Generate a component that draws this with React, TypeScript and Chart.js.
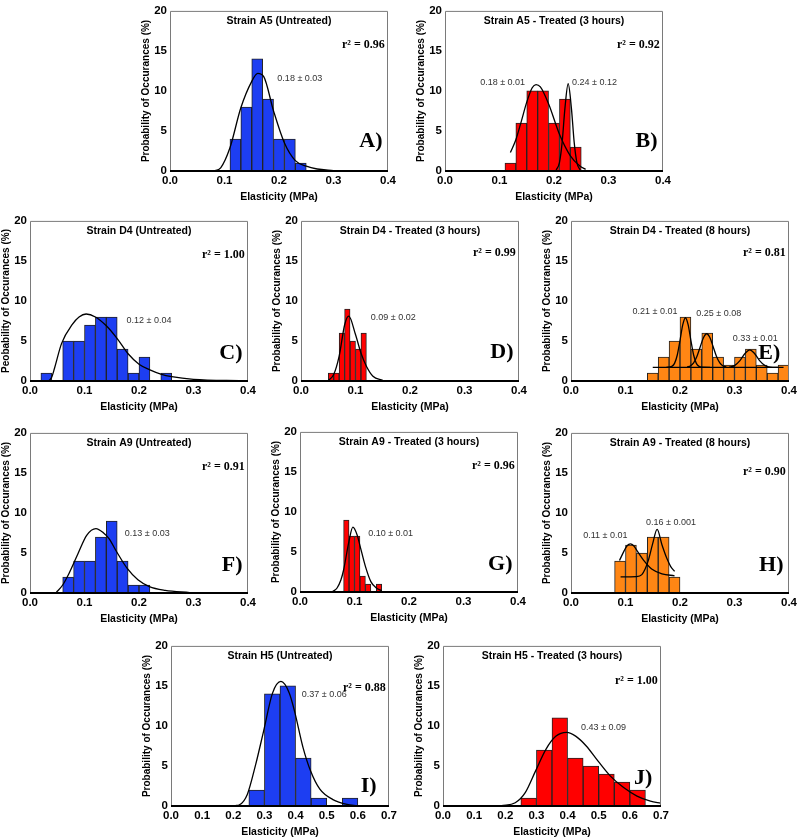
import React, { useEffect, useRef } from "react";
import { Chart, registerables } from "chart.js";
Chart.register(...registerables);

const SANS = '"Liberation Sans", Arial, sans-serif';
const SERIF = '"Liberation Serif", "Times New Roman", serif';

// ---------- tick labels ----------
const yTicks = [0, 5, 10, 15, 20];
const yTickLabels = ["0", "5", "10", "15", "20"];
const xTicks04 = [0, 0.1, 0.2, 0.3, 0.4];
const xTickLabels04 = ["0.0", "0.1", "0.2", "0.3", "0.4"];
const xTicks07 = [0, 0.1, 0.2, 0.3, 0.4, 0.5, 0.6, 0.7];
const xTickLabels07 = ["0.0", "0.1", "0.2", "0.3", "0.4", "0.5", "0.6", "0.7"];

// ---------- A: Strain A5 (Untreated) ----------
const aBinX = [0.12, 0.14, 0.16, 0.18, 0.2, 0.22, 0.24];
const aCounts = [4, 8, 14, 9, 4, 4, 1];
const aFitX = [0.08, 0.093, 0.11, 0.13, 0.15, 0.161, 0.172, 0.19, 0.21, 0.23, 0.25, 0.27, 0.3];
const aFitY = [0, 0.4, 2.9, 7.9, 11.2, 12.2, 11.8, 7.5, 3.5, 1.3, 0.6, 0.25, 0.05];
const aNotes = ["0.18 ± 0.03"];

// ---------- B: Strain A5 - Treated (3 hours) ----------
const bBinX = [0.12, 0.14, 0.16, 0.18, 0.2, 0.22, 0.24];
const bCounts = [1, 6, 10, 10, 6, 9, 3];
const bFit1X = [0.12, 0.13, 0.14, 0.15, 0.16, 0.167, 0.175, 0.19, 0.21, 0.23, 0.248, 0.258];
const bFit1Y = [2.3, 3.9, 6.2, 8.6, 10.4, 10.8, 10.5, 8.4, 4.6, 1.9, 0.6, 0.2];
const bFit2X = [0.204, 0.21, 0.215, 0.22, 0.226, 0.232, 0.237, 0.242, 0.248];
const bFit2Y = [0.13, 1.05, 3.6, 7.8, 10.9, 7.8, 3.6, 1.05, 0.13];
const bNotes = ["0.18 ± 0.01", "0.24 ± 0.12"];

// ---------- C: Strain D4 (Untreated) ----------
const cBinX = [0.03, 0.07, 0.09, 0.11, 0.13, 0.15, 0.17, 0.19, 0.21, 0.25];
const cCounts = [1, 5, 5, 7, 8, 8, 4, 1, 3, 1];
const cFitX = [0.035, 0.04, 0.045, 0.058, 0.078, 0.09, 0.103, 0.12, 0.14, 0.16, 0.18, 0.2, 0.22, 0.24, 0.26, 0.3, 0.39];
const cFitY = [0.05, 0.5, 1.6, 4.7, 7.1, 8.0, 8.37, 8.0, 6.9, 5.3, 3.4, 2.1, 1.4, 0.87, 0.54, 0.2, 0.04];
const cNotes = ["0.12 ± 0.04"];

// ---------- D: Strain D4 - Treated (3 hours) ----------
const dBinX = [0.055, 0.065, 0.075, 0.085, 0.095, 0.105, 0.115];
const dCounts = [1, 1, 6, 9, 5, 4, 6];
const dFitX = [0.05, 0.06, 0.07, 0.08, 0.0876, 0.1, 0.11, 0.12, 0.132, 0.15];
const dFitY = [0.05, 0.8, 3.1, 7.0, 8.1, 5.8, 3.5, 1.85, 0.6, 0.08];
const dNotes = ["0.09 ± 0.02"];

// ---------- E: Strain D4 - Treated (8 hours) ----------
const eBinX = [0.15, 0.17, 0.19, 0.21, 0.23, 0.25, 0.27, 0.29, 0.31, 0.33, 0.35, 0.37, 0.39];
const eCounts = [1, 3, 5, 8, 4, 6, 3, 2, 3, 4, 2, 1, 2];
const eBaseX = [0.15, 0.39];
const eBaseY = [1.7, 1.7];
const eFit1X = [0.175, 0.185, 0.19, 0.195, 0.2, 0.205, 0.21, 0.215, 0.22, 0.225, 0.23, 0.24, 0.255];
const eFit1Y = [1.71, 1.83, 2.2, 3.25, 5.05, 7.0, 7.9, 7.0, 5.05, 3.25, 2.2, 1.72, 1.7];
const eFit2X = [0.213, 0.219, 0.225, 0.231, 0.237, 0.243, 0.249, 0.255, 0.261, 0.267, 0.273, 0.279, 0.285];
const eFit2Y = [1.75, 1.88, 2.27, 3.07, 4.25, 5.4, 5.9, 5.4, 4.25, 3.07, 2.27, 1.88, 1.75];
const eFit3X = [0.29, 0.3, 0.31, 0.32, 0.328, 0.336, 0.346, 0.356, 0.366, 0.38];
const eFit3Y = [1.73, 1.92, 2.55, 3.5, 3.9, 3.5, 2.55, 1.92, 1.73, 1.7];
const eNotes = ["0.21 ± 0.01", "0.25 ± 0.08", "0.33 ± 0.01"];

// ---------- F: Strain A9 (Untreated) ----------
const fBinX = [0.07, 0.09, 0.11, 0.13, 0.15, 0.17, 0.19, 0.21];
const fCounts = [2, 4, 4, 7, 9, 4, 1, 1];
const fFitX = [0.048, 0.06, 0.072, 0.088, 0.104, 0.121, 0.135, 0.145, 0.159, 0.178, 0.198, 0.219, 0.248, 0.293];
const fFitY = [0.05, 1.0, 2.5, 4.9, 7.2, 8.04, 7.5, 6.8, 5.15, 3.1, 1.65, 0.8, 0.33, 0.05];
const fNotes = ["0.13 ± 0.03"];

// ---------- G: Strain A9 - Treated (3 hours) ----------
const gBinX = [0.085, 0.095, 0.105, 0.115, 0.125, 0.145];
const gCounts = [9, 7, 7, 2, 1, 1];
const gFitX = [0.06, 0.068, 0.075, 0.08, 0.09, 0.097, 0.105, 0.11, 0.12, 0.13, 0.14, 0.15];
const gFitY = [0.05, 0.5, 1.5, 2.75, 6.4, 8.1, 7.1, 5.8, 3.2, 1.3, 0.5, 0.16];
const gNotes = ["0.10 ± 0.01"];

// ---------- H: Strain A9 - Treated (8 hours) ----------
const hBinX = [0.09, 0.11, 0.13, 0.15, 0.17, 0.19];
const hCounts = [4, 6, 5, 7, 7, 2];
const hFit1X = [0.089, 0.097, 0.103, 0.109, 0.115, 0.122, 0.133, 0.148, 0.167, 0.19];
const hFit1Y = [4.06, 5.2, 5.9, 6.13, 5.9, 5.2, 4.1, 3.0, 2.4, 2.15];
const hFit2X = [0.091, 0.12, 0.13, 0.136, 0.142, 0.15, 0.158, 0.167, 0.176, 0.183, 0.19];
const hFit2Y = [2.02, 2.05, 2.3, 3.0, 4.1, 6.2, 7.95, 6.0, 4.3, 3.3, 2.7];
const hNotes = ["0.11 ± 0.01", "0.16 ± 0.001"];

// ---------- I: Strain H5 (Untreated) ----------
const iBinX = [0.275, 0.325, 0.375, 0.425, 0.475, 0.575];
const iCounts = [2, 14, 15, 6, 1, 1];
const iFitX = [0.207, 0.22, 0.245, 0.272, 0.297, 0.326, 0.353, 0.38, 0.397, 0.424, 0.448, 0.478, 0.52, 0.565, 0.598];
const iFitY = [0.05, 0.15, 1.45, 5.2, 9.3, 14.1, 15.56, 14.1, 11.8, 7.3, 4.4, 2.1, 0.8, 0.2, 0.05];
const iNotes = ["0.37 ± 0.06"];

// ---------- J: Strain H5 - Treated (3 hours) ----------
const jBinX = [0.275, 0.325, 0.375, 0.425, 0.475, 0.525, 0.575, 0.625];
const jCounts = [1, 7, 11, 6, 5, 4, 3, 2];
const jFitX = [0.188, 0.232, 0.264, 0.297, 0.33, 0.362, 0.397, 0.427, 0.46, 0.498, 0.536, 0.58, 0.623, 0.666, 0.7];
const jFitY = [0.05, 0.4, 1.66, 4.36, 7.05, 8.7, 9.2, 8.7, 7.5, 5.6, 3.8, 2.3, 1.24, 0.6, 0.33];
const jNotes = ["0.43 ± 0.09"];

// ---------- layout / style ----------
const BLUE = "#1d3ef2";
const RED = "#ff0000";
const ORANGE = "#ff8614";
const Y_TITLE = "Probability of Occurances (%)";
const X_TITLE = "Elasticity (MPa)";
const PLOT_W = 218;
const PLOT_H = 162;
const LY = 34;
const PT = 8;
const PR = 14;
const HX = 36;

type Note = { text: string; x: number; y: number };
type Panel = {
  left: number;
  top: number;
  title: string;
  yTitle: string;
  xMax: number;
  xTicks: number[];
  xLabels: string[];
  color: string;
  binX: number[];
  counts: number[];
  fits: [number[], number[]][];
  r2: string;
  r2Y: number;
  letter: string;
  letterY: number;
  letterFrac: number;
  notes: Note[];
};

const panels: Panel[] = [
  { left: 170, top: 9, title: "Strain A5 (Untreated)", yTitle: Y_TITLE, xMax: 0.4, xTicks: xTicks04, xLabels: xTickLabels04, color: BLUE, binX: aBinX, counts: aCounts, fits: [[aFitX, aFitY]], r2: "r² = 0.96", r2Y: 15.8, letter: "A)", letterY: 3.7, letterFrac: 0.975, notes: [{ text: aNotes[0], x: 0.197, y: 11.6 }] },
  { left: 445, top: 9, title: "Strain A5 - Treated (3 hours)", yTitle: Y_TITLE, xMax: 0.4, xTicks: xTicks04, xLabels: xTickLabels04, color: RED, binX: bBinX, counts: bCounts, fits: [[bFit1X, bFit1Y], [bFit2X, bFit2Y]], r2: "r² = 0.92", r2Y: 15.8, letter: "B)", letterY: 3.7, letterFrac: 0.975, notes: [{ text: bNotes[0], x: 0.0645, y: 11.0 }, { text: bNotes[1], x: 0.233, y: 11.0 }] },
  { left: 30, top: 219, title: "Strain D4 (Untreated)", yTitle: "Peobability of Occurances (%)", xMax: 0.4, xTicks: xTicks04, xLabels: xTickLabels04, color: BLUE, binX: cBinX, counts: cCounts, fits: [[cFitX, cFitY]], r2: "r² = 1.00", r2Y: 15.8, letter: "C)", letterY: 3.5, letterFrac: 0.975, notes: [{ text: cNotes[0], x: 0.177, y: 7.6 }] },
  { left: 301, top: 219, title: "Strain D4 - Treated (3 hours)", yTitle: Y_TITLE, xMax: 0.4, xTicks: xTicks04, xLabels: xTickLabels04, color: RED, binX: dBinX, counts: dCounts, fits: [[dFitX, dFitY]], r2: "r² = 0.99", r2Y: 16, letter: "D)", letterY: 3.6, letterFrac: 0.975, notes: [{ text: dNotes[0], x: 0.128, y: 7.9 }] },
  { left: 571, top: 219, title: "Strain D4 - Treated (8 hours)", yTitle: Y_TITLE, xMax: 0.4, xTicks: xTicks04, xLabels: xTickLabels04, color: ORANGE, binX: eBinX, counts: eCounts, fits: [[eBaseX, eBaseY], [eFit1X, eFit1Y], [eFit2X, eFit2Y], [eFit3X, eFit3Y]], r2: "r² = 0.81", r2Y: 16, letter: "E)", letterY: 3.5, letterFrac: 0.96, notes: [{ text: eNotes[0], x: 0.113, y: 8.7 }, { text: eNotes[1], x: 0.23, y: 8.45 }, { text: eNotes[2], x: 0.297, y: 5.3 }] },
  { left: 30, top: 431, title: "Strain A9 (Untreated)", yTitle: Y_TITLE, xMax: 0.4, xTicks: xTicks04, xLabels: xTickLabels04, color: BLUE, binX: fBinX, counts: fCounts, fits: [[fFitX, fFitY]], r2: "r² = 0.91", r2Y: 15.8, letter: "F)", letterY: 3.4, letterFrac: 0.975, notes: [{ text: fNotes[0], x: 0.174, y: 7.4 }] },
  { left: 300, top: 430, title: "Strain A9 - Treated (3 hours)", yTitle: Y_TITLE, xMax: 0.4, xTicks: xTicks04, xLabels: xTickLabels04, color: RED, binX: gBinX, counts: gCounts, fits: [[gFitX, gFitY]], r2: "r² = 0.96", r2Y: 15.7, letter: "G)", letterY: 3.4, letterFrac: 0.975, notes: [{ text: gNotes[0], x: 0.125, y: 7.3 }] },
  { left: 571, top: 431, title: "Strain A9 - Treated (8 hours)", yTitle: Y_TITLE, xMax: 0.4, xTicks: xTicks04, xLabels: xTickLabels04, color: ORANGE, binX: hBinX, counts: hCounts, fits: [[hFit1X, hFit1Y], [hFit2X, hFit2Y]], r2: "r² = 0.90", r2Y: 15.1, letter: "H)", letterY: 3.4, letterFrac: 0.975, notes: [{ text: hNotes[0], x: 0.0224, y: 7.2 }, { text: hNotes[1], x: 0.1376, y: 8.8 }] },
  { left: 171, top: 644, title: "Strain H5 (Untreated)", yTitle: Y_TITLE, xMax: 0.7, xTicks: xTicks07, xLabels: xTickLabels07, color: BLUE, binX: iBinX, counts: iCounts, fits: [[iFitX, iFitY]], r2: "r² = 0.88", r2Y: 14.7, letter: "I)", letterY: 2.4, letterFrac: 0.943, notes: [{ text: iNotes[0], x: 0.42, y: 13.9 }] },
  { left: 443, top: 644, title: "Strain H5 - Treated (3 hours)", yTitle: Y_TITLE, xMax: 0.7, xTicks: xTicks07, xLabels: xTickLabels07, color: RED, binX: jBinX, counts: jCounts, fits: [[jFitX, jFitY]], r2: "r² = 1.00", r2Y: 15.6, letter: "J)", letterY: 3.5, letterFrac: 0.96, notes: [{ text: jNotes[0], x: 0.443, y: 9.8 }] },
];

const decorPlugin = {
  id: "decor",
  afterDatasetsDraw(chart: any, _args: any, opts: any) {
    const p: Panel = opts.panel;
    if (!p) return;
    const { ctx, chartArea: a } = chart;
    const xs = chart.scales.x;
    const ys = chart.scales.y;
    ctx.save();
    // top/right/left frame (grey)
    ctx.strokeStyle = "#7a7a7a";
    ctx.lineWidth = 1;
    ctx.beginPath();
    ctx.moveTo(a.left + 0.5, a.bottom);
    ctx.lineTo(a.left + 0.5, a.top + 0.5);
    ctx.lineTo(a.right - 0.5, a.top + 0.5);
    ctx.lineTo(a.right - 0.5, a.bottom);
    ctx.stroke();
    // bottom axis (black)
    ctx.strokeStyle = "#000";
    ctx.lineWidth = 2;
    ctx.beginPath();
    ctx.moveTo(a.left, a.bottom);
    ctx.lineTo(a.right, a.bottom);
    ctx.stroke();
    // texts
    ctx.fillStyle = "#000";
    ctx.textBaseline = "middle";
    ctx.textAlign = "center";
    ctx.font = `bold 10.5px ${SANS}`;
    ctx.fillText(p.title, (a.left + a.right) / 2, ys.getPixelForValue(18.75));
    ctx.textAlign = "right";
    ctx.font = `bold 12px ${SERIF}`;
    ctx.fillText(p.r2, a.left + (a.right - a.left) * 0.985, ys.getPixelForValue(p.r2Y));
    ctx.font = `bold 22px ${SERIF}`;
    ctx.fillText(p.letter, a.left + (a.right - a.left) * p.letterFrac, ys.getPixelForValue(p.letterY));
    ctx.textAlign = "left";
    ctx.fillStyle = "#333";
    ctx.font = `9px ${SANS}`;
    for (const n of p.notes) {
      ctx.fillText(n.text, xs.getPixelForValue(n.x), ys.getPixelForValue(n.y));
    }
    ctx.restore();
  },
};

function PanelChart({ p }: { p: Panel }) {
  const ref = useRef<HTMLCanvasElement>(null);
  const W = PLOT_W + LY + PR;
  const H = PLOT_H + PT + HX;
  useEffect(() => {
    const lineSets = p.fits.map(([fx, fy]) => ({
      type: "line" as const,
      data: fx.map((x, i) => ({ x, y: fy[i] })),
      borderColor: "#000",
      borderWidth: 1.3,
      pointRadius: 0,
      fill: false,
      cubicInterpolationMode: "monotone" as const,
      order: 0,
    }));
    const chart = new Chart(ref.current!, {
      type: "bar",
      data: {
        datasets: [
          ...lineSets,
          {
            type: "bar" as const,
            data: p.binX.map((x, i) => ({ x, y: p.counts[i] })),
            backgroundColor: p.color,
            borderColor: "#222",
            borderWidth: 1,
            barPercentage: 1,
            categoryPercentage: 1,
            order: 1,
          },
        ] as any,
      },
      options: {
        animation: false,
        responsive: false,
        maintainAspectRatio: false,
        layout: { padding: { top: PT, right: PR, left: 0, bottom: 0 } },
        plugins: {
          legend: { display: false },
          tooltip: { enabled: false },
          decor: { panel: p },
        } as any,
        scales: {
          x: {
            type: "linear",
            min: 0,
            max: p.xMax,
            offset: false,
            grid: { display: false, drawTicks: false },
            border: { display: false },
            afterBuildTicks: (s: any) => {
              s.ticks = p.xTicks.map((v) => ({ value: v }));
            },
            ticks: {
              callback: (_v: any, i: number) => p.xLabels[i],
              font: { family: SANS, size: 11.5, weight: "bold" },
              color: "#000",
              padding: 3,
              maxRotation: 0,
              autoSkip: false,
            },
            title: {
              display: true,
              text: X_TITLE,
              font: { family: SANS, size: 10.5, weight: "bold" },
              color: "#000",
              padding: { top: 0, bottom: 4 },
            },
            afterFit: (s: any) => {
              s.height = HX;
            },
          },
          y: {
            type: "linear",
            min: 0,
            max: 20,
            grid: { display: false, drawTicks: false },
            border: { display: false },
            afterBuildTicks: (s: any) => {
              s.ticks = yTicks.map((v) => ({ value: v }));
            },
            ticks: {
              callback: (_v: any, i: number) => yTickLabels[i],
              font: { family: SANS, size: 11.5, weight: "bold" },
              color: "#000",
              padding: 3,
            },
            title: {
              display: true,
              text: p.yTitle,
              font: { family: SANS, size: 10, weight: "bold" },
              color: "#000",
              padding: { top: 4, bottom: 0 },
            },
            afterFit: (s: any) => {
              s.width = LY;
            },
          },
        } as any,
      },
      plugins: [decorPlugin],
    });
    return () => chart.destroy();
  }, []);
  return (
    <canvas
      ref={ref}
      width={W}
      height={H}
      style={{ position: "absolute", left: p.left - LY, top: p.top - PT, width: W, height: H }}
    />
  );
}

export default function App() {
  return (
    <div
      style={{
        position: "absolute",
        left: 0,
        top: 0,
        width: 800,
        height: 840,
        overflow: "hidden",
        background: "#fff",
      }}
    >
      {panels.map((p, i) => (
        <PanelChart key={i} p={p} />
      ))}
    </div>
  );
}
